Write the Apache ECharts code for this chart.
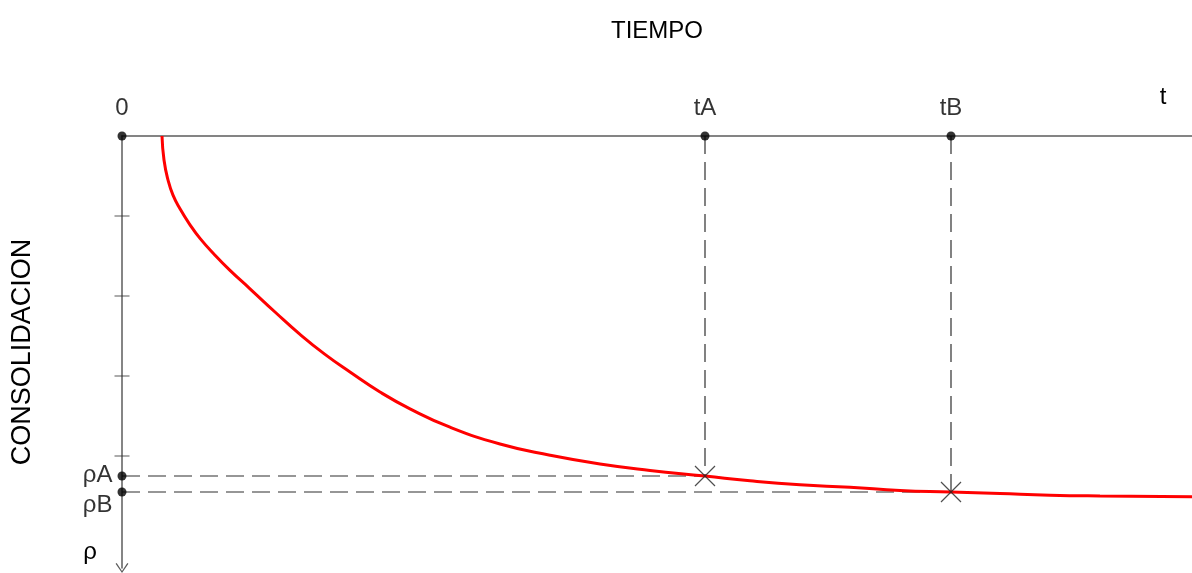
<!DOCTYPE html>
<html>
<head>
<meta charset="utf-8">
<script src="https://cdn.jsdelivr.net/npm/echarts@6/dist/echarts.min.js"></script>
<style>
  html, body { margin: 0; padding: 0; background: #ffffff; }
  #chart { width: 1192px; height: 573px; }
</style>
</head>
<body>
<div id="chart"></div>
<script>
// Curva de consolidación: asiento acumulado frente al tiempo
const tiempo = [0.40, 0.42, 0.46, 0.51, 0.58, 0.68, 0.78, 0.93, 1.08, 1.28, 1.53, 1.78, 2.03, 2.28, 2.58, 2.88,
                3.28, 3.78, 4.28, 4.78, 5.28, 5.83, 6.28, 6.78, 7.28, 7.78, 8.29, 8.78, 9.28, 9.78, 10.70];
const consolidacion = [0, 0.30, 0.55, 0.74, 0.91, 1.11, 1.28, 1.49, 1.68, 1.91, 2.20, 2.48, 2.73, 2.95, 3.20, 3.41,
                       3.64, 3.85, 3.99, 4.10, 4.18, 4.25, 4.31, 4.36, 4.39, 4.43, 4.45, 4.47, 4.49, 4.50, 4.51];

// Instantes marcados sobre el eje de tiempo
const marcasTiempo = ['0', 'tA', 'tB'];
const valoresTiempo = [0, 5.83, 8.29];

const marcasAsiento = ['ρA', 'ρB'];
const valoresAsiento = [4.25, 4.45];

// Extensión de los ejes, divisiones y rótulos de eje
const tiempoMax = 10.7;
const asientoMax = 5.4;
const divisionesAsiento = [1, 2, 3, 4];
const rotuloEjeT = 't';
const posRotuloEjeT = 10.41;
const rotuloEjeRho = 'ρ';
const posRotuloEjeRho = 5.21;

const FONT = "'Liberation Sans', Arial, sans-serif";
const GRIS = '#5c5c5c';
const TRAZO = '#2e2e2e';
const FLECHA = 'path://M0,10 L7,0 L14,10 L12.8,10.9 L7,2.2 L1.2,10.9 Z';

const gridRect = { left: 122, right: 0, top: 136, bottom: 5 };

// Líneas auxiliares discontinuas: desde cada instante hasta la curva y hasta el eje de asientos
const guias = [];
valoresTiempo.slice(1).forEach((t, i) => {
  const rho = valoresAsiento[i];
  guias.push([[t, 0], [t, rho]]);
  guias.push([[0, rho], [t, rho]]);
});

const seriesGuias = guias.map(seg => ({
  type: 'line',
  data: seg,
  symbol: 'none',
  silent: true,
  lineStyle: { color: TRAZO, width: 1.2, type: [18, 8] },
  z: 2
}));

const chart = echarts.init(document.getElementById('chart'), null, { renderer: 'canvas' });

chart.setOption({
  animation: false,
  backgroundColor: '#ffffff',
  grid: [0, 1].map(() => Object.assign({}, gridRect)),
  xAxis: [
    {
      type: 'value', gridIndex: 0, position: 'top',
      min: 0, max: tiempoMax,
      name: 'TIEMPO', nameLocation: 'middle', nameGap: 93,
      nameTextStyle: { fontFamily: FONT, fontSize: 24, color: '#000' },
      axisLine: { show: true, lineStyle: { color: GRIS, width: 1.5 } },
      axisTick: { show: false },
      axisLabel: { show: false },
      splitLine: { show: false }
    },
    {
      // Rótulo "t" al final del eje de tiempo
      type: 'value', gridIndex: 1, position: 'top',
      min: 0, max: tiempoMax,
      axisLine: { show: false },
      axisTick: { show: false },
      axisLabel: {
        show: true, customValues: [posRotuloEjeT], margin: 27,
        formatter: () => rotuloEjeT,
        fontFamily: FONT, fontSize: 24, color: '#000'
      },
      splitLine: { show: false }
    }
  ],
  yAxis: [
    {
      type: 'value', gridIndex: 0, position: 'left', inverse: true,
      min: 0, max: asientoMax,
      name: 'CONSOLIDACION', nameLocation: 'middle', nameRotate: 90, nameGap: 86,
      nameTextStyle: { fontFamily: FONT, fontSize: 27, color: '#000' },
      axisLine: {
        show: true,
        lineStyle: { color: GRIS, width: 1.5 },
        symbol: [FLECHA, 'none'],
        symbolSize: [16, 10]
      },
      axisTick: { show: false },
      axisLabel: { show: false },
      splitLine: { show: false }
    },
    {
      // Rótulo "ρ" al final del eje de asientos
      type: 'value', gridIndex: 1, position: 'left', inverse: true,
      min: 0, max: asientoMax,
      axisLine: { show: false },
      axisTick: { show: false },
      axisLabel: {
        show: true, customValues: [posRotuloEjeRho], margin: 25,
        formatter: () => rotuloEjeRho,
        fontFamily: FONT, fontSize: 24, color: '#000'
      },
      splitLine: { show: false }
    }
  ],
  series: seriesGuias.concat([
    {
      // Divisiones que cruzan el eje de asientos
      type: 'scatter',
      data: divisionesAsiento.map(d => [0, d]),
      symbol: 'rect',
      symbolSize: [15, 1],
      itemStyle: { color: TRAZO },
      silent: true,
      z: 2
    },
    {
      name: 'Consolidación',
      type: 'line',
      data: tiempo.map((t, i) => [t, consolidacion[i]]),
      smooth: 0.5,
      symbol: 'none',
      lineStyle: { color: '#ff0000', width: 3 },
      z: 3
    },
    {
      // Puntos de lectura sobre la curva
      type: 'scatter',
      data: valoresTiempo.slice(1).map((t, i) => [t, valoresAsiento[i]]),
      symbol: 'path://M0,0 L20,20 M20,0 L0,20',
      symbolSize: 20,
      itemStyle: { color: 'none', borderColor: '#222', borderWidth: 1.2 },
      silent: true,
      z: 4
    },
    {
      // Instantes sobre el eje de tiempo
      type: 'scatter',
      data: valoresTiempo.map((t, i) => ({ value: [t, 0], name: marcasTiempo[i] })),
      symbol: 'circle',
      symbolSize: 9,
      itemStyle: { color: '#000' },
      label: {
        show: true, position: 'top', distance: 11,
        formatter: p => p.name,
        fontFamily: FONT, fontSize: 24, color: '#000'
      },
      silent: true,
      z: 5
    },
    {
      // Asientos sobre el eje de consolidación
      type: 'scatter',
      data: valoresAsiento.map((r, i) => ({
        value: [0, r], name: marcasAsiento[i],
        label: { offset: i === 0 ? [0, -1] : [0, 13] }
      })),
      symbol: 'circle',
      symbolSize: 9,
      itemStyle: { color: '#000' },
      label: {
        show: true, position: 'left', distance: 5,
        formatter: p => p.name,
        fontFamily: FONT, fontSize: 24, color: '#000'
      },
      silent: true,
      z: 5
    }
  ])
});
</script>
</body>
</html>
